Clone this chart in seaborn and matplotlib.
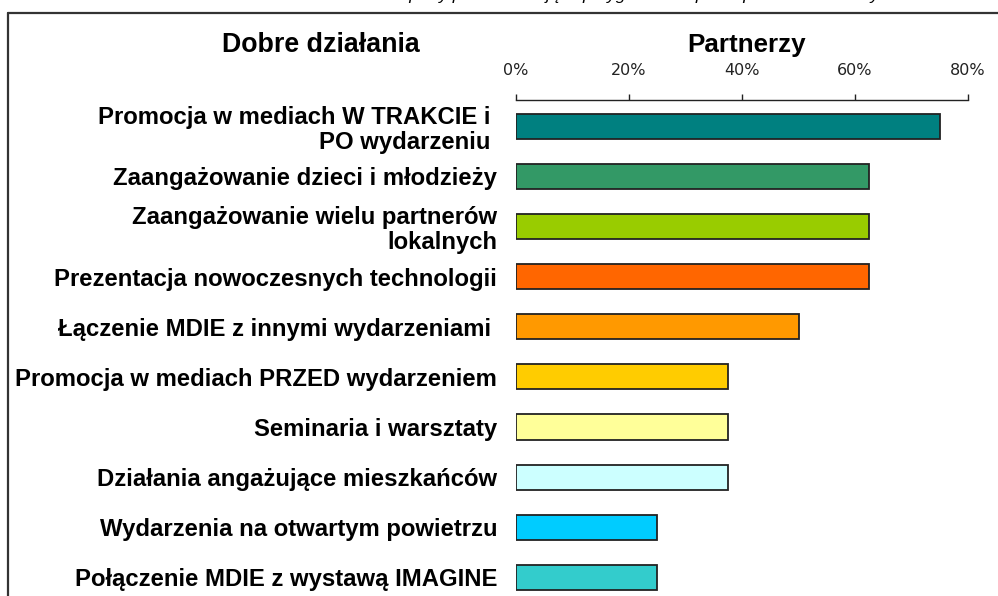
import matplotlib
matplotlib.use("Agg")
import matplotlib.pyplot as plt
from matplotlib.lines import Line2D
import seaborn as sns
import pandas as pd

categories = [
    "Promocja w mediach W TRAKCIE i \nPO wydarzeniu ",
    "Zaangażowanie dzieci i młodzieży",
    "Zaangażowanie wielu partnerów\nlokalnych",
    "Prezentacja nowoczesnych technologii",
    "Łączenie MDIE z innymi wydarzeniami ",
    "Promocja w mediach PRZED wydarzeniem",
    "Seminaria i warsztaty",
    "Działania angażujące mieszkańców",
    "Wydarzenia na otwartym powietrzu",
    "Połączenie MDIE z wystawą IMAGINE",
]
values = [75.0, 62.5, 62.5, 62.5, 50.0, 37.5, 37.5, 37.5, 25.0, 25.0]
colors = ["#008080", "#339966", "#99CC00", "#FF6600", "#FF9900",
          "#FFCC00", "#FFFF99", "#CCFFFF", "#00CCFF", "#33CCCC"]
xticks = [0, 20, 40, 60, 80]
xticklabels = ["0%", "20%", "40%", "60%", "80%"]
left_title = "Dobre działania"
right_title = "Partnerzy"
top_note = "Źródło: raporty podsumowujące przygotowane przez partnerów lokalnych MDIE 2008"

sns.set_theme(style="white")
plt.rcParams["font.family"] = ["Liberation Sans", "DejaVu Sans"]

W, H = 998, 596
fig = plt.figure(figsize=(W / 100, H / 100), dpi=100)
ax = fig.add_axes([516 / W, 0, (968 - 516) / W, 1 - 100 / H])

df = pd.DataFrame({"cat": categories, "val": values})
sns.barplot(data=df, y="cat", x="val", hue="cat", palette=colors,
            legend=False, orient="h", width=0.5, ax=ax,
            edgecolor="#222222", linewidth=1.3, saturation=1)

ax.set_xlim(0, 80)
ax.set_ylim(9.37, -0.52)
ax.set_xlabel("")
ax.set_ylabel("")

ax.xaxis.tick_top()
ax.set_xticks(xticks)
ax.set_xticklabels(xticklabels, fontsize=11.5, color="#222222",
                   family=["DejaVu Sans"])
ax.tick_params(axis="x", direction="out", length=4.5, width=1.0,
               pad=11.5, colors="#222222", top=True, bottom=False)
ax.tick_params(axis="y", length=0, pad=13.5)
for lab in ax.get_yticklabels():
    lab.set_fontweight("bold")
    lab.set_fontsize(17.2)
    lab.set_color("black")
    lab.set_linespacing(1.12)

for s in ["left", "right", "bottom"]:
    ax.spines[s].set_visible(False)
ax.spines["top"].set_visible(True)
ax.spines["top"].set_color("#222222")
ax.spines["top"].set_linewidth(1.0)

fig.text(321 / W, 1 - 45 / H, left_title, ha="center", va="center",
         fontsize=19.3, fontweight="bold", color="black")
fig.text(747 / W, 1 - 45 / H, right_title, ha="center", va="center",
         fontsize=18.7, fontweight="bold", color="black")

fig.text(990 / W, 1.0, top_note, ha="right", va="baseline",
         fontsize=12.5, style="italic", color="black")

fig.add_artist(Line2D([8 / W, 1.0], [1 - 13 / H, 1 - 13 / H],
                      transform=fig.transFigure, color="#333333", lw=1.6))
fig.add_artist(Line2D([8 / W, 8 / W], [1 - 13 / H, 0.0],
                      transform=fig.transFigure, color="#333333", lw=1.6))

fig.savefig("out.png", dpi=100)
